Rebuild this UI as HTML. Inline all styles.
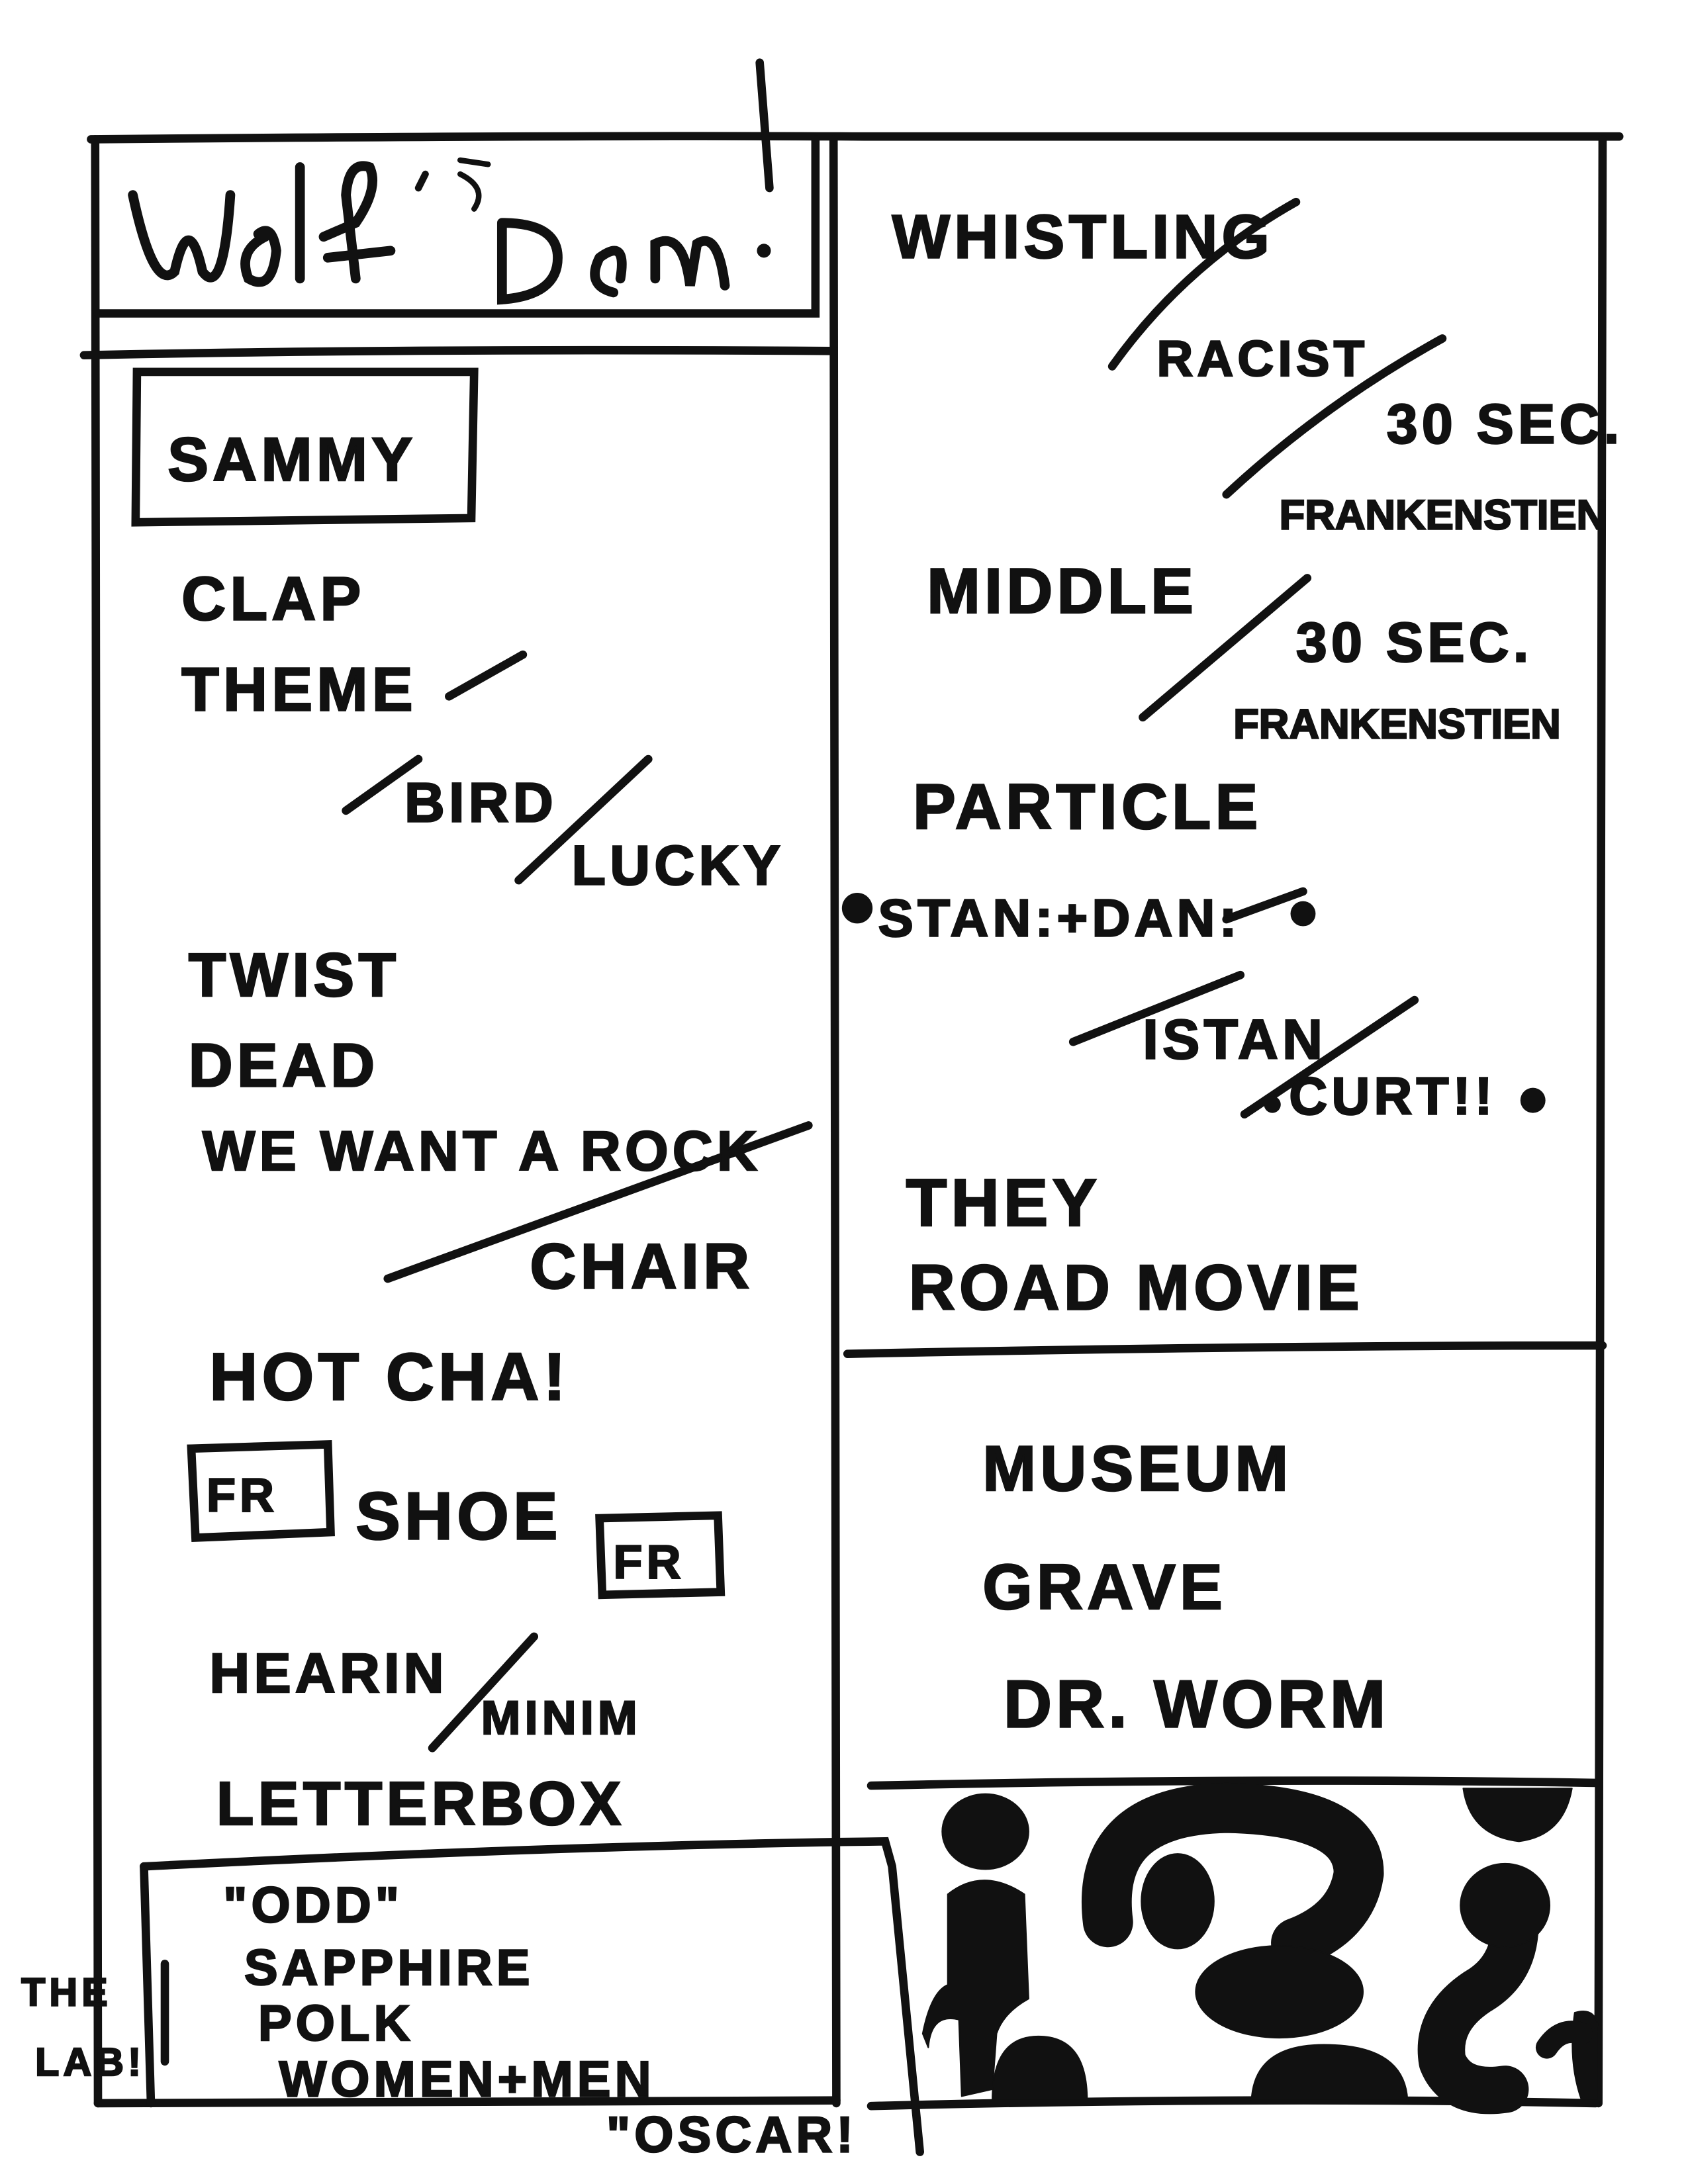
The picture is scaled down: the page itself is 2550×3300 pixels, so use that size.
<!DOCTYPE html>
<html><head><meta charset="utf-8"><style>
html,body{margin:0;padding:0;background:#fff;}
svg{display:block}
text{font-family:"Liberation Sans",sans-serif;font-weight:bold;fill:#111;stroke:#111;stroke-width:1.2;letter-spacing:3px}
</style></head><body>
<svg width="2550" height="3300" viewBox="0 0 1211 1568" xmlns="http://www.w3.org/2000/svg">
<g fill="none" stroke="#111" stroke-width="6" stroke-linecap="round">
<path d="M65 100 Q400 97 620 98 T1162 98"/>
<path d="M68 100 L70 1510"/>
<path d="M1150 100 L1147 1510"/>
<path d="M598 100 L600 1510"/>
<path d="M70 1510 L600 1508"/>
<path d="M70 225 L585 225 L585 100"/>
<path d="M60 255 Q300 250 598 252"/>
<path d="M98 267 L340 267 L338 372 L97 375 Z"/>
<path d="M608 972 Q900 966 1150 966"/>
<path d="M625 1282 Q900 1276 1145 1280"/>
<path d="M625 1512 Q900 1505 1145 1510"/>
<path d="M103 1340 Q400 1325 635 1322 L640 1340 L660 1545"/>
<path d="M103 1340 L108 1510"/>
<path d="M118 1410 L118 1480"/>
<path d="M137 1040 L235 1037 L237 1100 L140 1104 Z"/>
<path d="M430 1090 L515 1088 L517 1143 L432 1145 Z"/>
<path d="M322 500 L375 470"/>
<path d="M248 582 L300 545"/>
<path d="M372 632 L465 545"/>
<path d="M798 263 Q850 190 930 145"/>
<path d="M880 355 Q950 290 1035 243"/>
<path d="M820 515 L938 415"/>
<path d="M880 660 L935 640"/>
<path d="M770 748 L890 700"/>
<path d="M893 800 L1015 718"/>
<path d="M278 918 L580 808"/>
<path d="M310 1255 L383 1175"/>
<path d="M95 140 Q110 210 125 195 Q135 150 145 195 Q160 215 165 140" stroke-width="7"/>
<path d="M190 170 Q170 180 178 200 Q195 210 198 180 Q195 160 185 168" stroke-width="7"/>
<path d="M215 120 L215 200" stroke-width="7"/>
<path d="M255 200 L248 140 Q250 115 265 120 Q272 135 255 160 L232 170 M235 185 L280 180" stroke-width="7"/>
<path d="M300 135 L305 125" stroke-width="5"/>
<path d="M330 115 L350 118 M330 125 Q350 135 340 150" stroke-width="4"/>
<path d="M360 160 L360 215 Q400 212 400 185 Q400 160 360 160" stroke-width="7"/>
<path d="M430 185 Q420 205 440 210 M430 185 Q450 170 445 200" stroke-width="7"/>
<path d="M470 200 L470 175 Q490 165 495 205 L500 175 Q515 165 520 205" stroke-width="7"/>
<path d="M545 45 L552 135" stroke-width="6"/>
</g>
<g fill="#111">
<circle cx="548" cy="180" r="5"/>
<circle cx="615" cy="652" r="11"/>
<circle cx="935" cy="656" r="9"/>
<circle cx="913" cy="793" r="6"/>
<circle cx="1100" cy="790" r="9"/>
</g>
<g font-size="44">
<text x="120" y="345">SAMMY</text>
<text x="130" y="445">CLAP</text>
<text x="130" y="510">THEME</text>
<text x="290" y="590" font-size="40">BIRD</text>
<text x="410" y="635" font-size="40">LUCKY</text>
<text x="135" y="715">TWIST</text>
<text x="135" y="780">DEAD</text>
<text x="145" y="840" font-size="40">WE WANT A ROCK</text>
<text x="380" y="925" font-size="46">CHAIR</text>
<text x="150" y="1005" font-size="48">HOT CHA!</text>
<text x="148" y="1085" font-size="34">FR</text>
<text x="440" y="1133" font-size="34">FR</text>
<text x="255" y="1105" font-size="48">SHOE</text>
<text x="150" y="1215" font-size="40">HEARIN</text>
<text x="345" y="1245" font-size="34">MINIM</text>
<text x="155" y="1310" font-size="44">LETTERBOX</text>
<text x="160" y="1380" font-size="36">"ODD"</text>
<text x="175" y="1425" font-size="36">SAPPHIRE</text>
<text x="185" y="1465" font-size="36">POLK</text>
<text x="200" y="1505" font-size="36">WOMEN+MEN</text>
<text x="435" y="1545" font-size="36">"OSCAR!</text>
<text x="15" y="1440" font-size="28">THE</text>
<text x="25" y="1490" font-size="28">LAB!</text>
<text x="640" y="185">WHISTLING</text>
<text x="830" y="270" font-size="36">RACIST</text>
<text x="995" y="318" font-size="40">30 SEC.</text>
<text x="918" y="380" font-size="30" style="letter-spacing:0px">FRANKENSTIEN</text>
<text x="885" y="530" font-size="30" style="letter-spacing:0px">FRANKENSTIEN</text>
<text x="665" y="440" font-size="46">MIDDLE</text>
<text x="930" y="475" font-size="40">30 SEC.</text>
<text x="655" y="595" font-size="46">PARTICLE</text>
<text x="630" y="672" font-size="38">STAN:+DAN:</text>
<text x="820" y="760" font-size="40">ISTAN</text>
<text x="925" y="800" font-size="38">CURT!!</text>
<text x="650" y="880" font-size="48">THEY</text>
<text x="652" y="940" font-size="46">ROAD MOVIE</text>
<text x="705" y="1070" font-size="46">MUSEUM</text>
<text x="705" y="1155" font-size="46">GRAVE</text>
<text x="720" y="1240" font-size="48">DR. WORM</text>
</g>
<g fill="#111" stroke="#111" stroke-linecap="round" stroke-linejoin="round">
<ellipse cx="707" cy="1315" rx="31" ry="27"/>
<path d="M680 1360 Q705 1340 735 1360 L738 1435 Q720 1445 715 1460 L712 1500 L690 1505 L688 1450 Q668 1445 666 1470 L662 1460 Q668 1430 680 1425 Z"/>
<path d="M1050 1284 L1128 1284 Q1122 1318 1090 1322 Q1055 1318 1050 1284 Z"/>
<path d="M712 1508 Q712 1462 745 1462 Q780 1462 780 1508 Z"/>
<path d="M898 1508 Q900 1468 950 1468 Q1008 1468 1010 1508 Z"/>
<path d="M1130 1445 Q1147 1440 1147 1460 L1147 1508 L1135 1508 Q1125 1480 1130 1445 Z"/>
<path d="M795 1380 Q785 1300 880 1298 Q975 1300 975 1345 Q970 1380 930 1395" fill="none" stroke-width="36"/>
<ellipse cx="845" cy="1365" rx="26" ry="34"/>
<ellipse cx="918" cy="1430" rx="60" ry="33"/>
<path d="M1085 1360 Q1095 1410 1060 1430 Q1030 1450 1035 1480 Q1045 1505 1080 1500" fill="none" stroke-width="34"/>
<ellipse cx="1080" cy="1368" rx="32" ry="30"/>
<path d="M1110 1470 Q1120 1455 1135 1460" fill="none" stroke-width="16"/>
</g>
</svg>
</body></html>
